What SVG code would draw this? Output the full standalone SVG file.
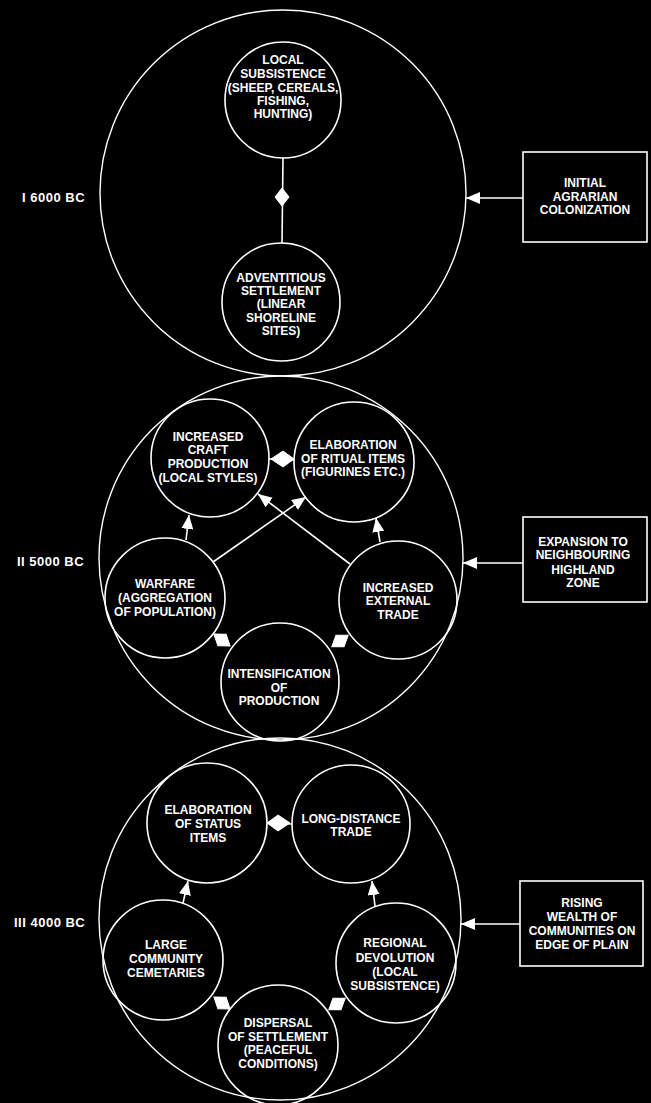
<svg xmlns="http://www.w3.org/2000/svg" width="651" height="1103" viewBox="0 0 651 1103">
<defs>
<style>
.bg{fill:#000}
.c{fill:none;stroke:#fff;stroke-width:1.6}
.big{fill:none;stroke:#fff;stroke-width:1.4}
.box{fill:none;stroke:#fff;stroke-width:1.6}
.t{fill:#fff;font-family:"Liberation Sans",Arial,sans-serif;font-size:12px;font-weight:bold;text-anchor:middle}
.lbl{fill:#fff;font-family:"Liberation Sans",Arial,sans-serif;font-size:13px;font-weight:bold;letter-spacing:0.5px}
.ln{stroke:#fff;stroke-width:1.6;fill:none}
.d{fill:#fff;stroke:#fff;stroke-width:1}
</style>
<marker id="ah" viewBox="0 0 14 12" refX="14" refY="6" markerWidth="14" markerHeight="12" orient="auto" markerUnits="userSpaceOnUse">
<path d="M0,0 L14,6 L0,12 z" fill="#fff"/>
</marker>
</defs>
<rect class="bg" x="0" y="0" width="651" height="1103"/>

<g id="phases">
<g id="phase1"><circle class="big" cx="283" cy="193" r="183"/><text class="lbl" x="22" y="202">I 6000 BC</text></g>
<g id="phase2"><circle class="big" cx="281" cy="558" r="182"/><text class="lbl" x="17" y="566">II 5000 BC</text></g>
<g id="phase3"><circle class="big" cx="280" cy="919" r="181"/><text class="lbl" x="14" y="927">III 4000 BC</text></g>
</g>

<g id="connectors">
<line class="ln" x1="283" y1="158" x2="282" y2="243"/>
<polygon class="d" points="282,188 289,197 282,206 275,197"/>
<line class="ln" x1="523" y1="198" x2="466" y2="198" marker-end="url(#ah)"/>
<line class="ln" x1="523" y1="563" x2="463" y2="563" marker-end="url(#ah)"/>
<line class="ln" x1="520" y1="924" x2="461" y2="924" marker-end="url(#ah)"/>

<line class="ln" x1="269" y1="459" x2="294" y2="460"/>
<polygon class="d" points="271,459 283,451 294,459 283,467"/>
<line class="ln" x1="186" y1="540" x2="189" y2="515" marker-end="url(#ah)"/>
<line class="ln" x1="380" y1="542" x2="376" y2="518" marker-end="url(#ah)"/>
<line class="ln" x1="213" y1="562" x2="306" y2="497" marker-end="url(#ah)"/>
<line class="ln" x1="350" y1="564" x2="258" y2="494" marker-end="url(#ah)"/>
<polygon class="d" points="-10,0 0,-7 10,0 0,7" transform="translate(222,640) rotate(36)"/>
<polygon class="d" points="-10,0 0,-7 10,0 0,7" transform="translate(340,641) rotate(-35)"/>

<line class="ln" x1="267" y1="823" x2="292" y2="824"/>
<polygon class="d" points="267,823 278,815 290,823 278,831"/>
<line class="ln" x1="183" y1="903" x2="188" y2="881" marker-end="url(#ah)"/>
<line class="ln" x1="375" y1="906" x2="372" y2="881" marker-end="url(#ah)"/>
<polygon class="d" points="-10,0 0,-7 10,0 0,7" transform="translate(222,1003) rotate(36)"/>
<polygon class="d" points="-10,0 0,-7 10,0 0,7" transform="translate(337,1004) rotate(-35)"/>
</g>

<g id="local-subsistence"><circle class="c" cx="283" cy="100" r="58"/>
<text class="t" x="283" y="64">LOCAL</text><text class="t" x="283" y="78">SUBSISTENCE</text><text class="t" x="283" y="92">(SHEEP, CEREALS,</text><text class="t" x="283" y="105">FISHING,</text><text class="t" x="283" y="118">HUNTING)</text></g>

<g id="adventitious-settlement"><circle class="c" cx="281" cy="302" r="59"/>
<text class="t" x="281" y="282">ADVENTITIOUS</text><text class="t" x="281" y="295">SETTLEMENT</text><text class="t" x="281" y="308">(LINEAR</text><text class="t" x="281" y="322">SHORELINE</text><text class="t" x="281" y="335">SITES)</text></g>

<g id="box-initial"><rect class="box" x="523" y="152" width="124" height="90"/>
<text class="t" x="585" y="187">INITIAL</text><text class="t" x="585" y="201">AGRARIAN</text><text class="t" x="585" y="214">COLONIZATION</text></g>

<g id="craft-production"><circle class="c" cx="210" cy="458" r="59"/>
<text class="t" x="208" y="441">INCREASED</text><text class="t" x="208" y="454">CRAFT</text><text class="t" x="208" y="468">PRODUCTION</text><text class="t" x="208" y="482">(LOCAL STYLES)</text></g>

<g id="ritual-items"><circle class="c" cx="354" cy="462" r="60"/>
<text class="t" x="353" y="449">ELABORATION</text><text class="t" x="353" y="463">OF RITUAL ITEMS</text><text class="t" x="353" y="476">(FIGURINES ETC.)</text></g>

<g id="warfare"><circle class="c" cx="165" cy="598" r="60"/>
<text class="t" x="165" y="588">WARFARE</text><text class="t" x="165" y="602">(AGGREGATION</text><text class="t" x="165" y="616">OF POPULATION)</text></g>

<g id="external-trade"><circle class="c" cx="398" cy="600" r="59"/>
<text class="t" x="398" y="592">INCREASED</text><text class="t" x="398" y="605">EXTERNAL</text><text class="t" x="398" y="619">TRADE</text></g>

<g id="intensification"><circle class="c" cx="280" cy="682" r="59"/>
<text class="t" x="279" y="678">INTENSIFICATION</text><text class="t" x="279" y="692">OF</text><text class="t" x="279" y="705">PRODUCTION</text></g>

<g id="box-expansion"><rect class="box" x="523" y="517" width="124" height="85"/>
<text class="t" x="583" y="546">EXPANSION TO</text><text class="t" x="583" y="559">NEIGHBOURING</text><text class="t" x="583" y="574">HIGHLAND</text><text class="t" x="583" y="587">ZONE</text></g>

<g id="status-items"><circle class="c" cx="207" cy="823" r="60"/>
<text class="t" x="208" y="814">ELABORATION</text><text class="t" x="208" y="828">OF STATUS</text><text class="t" x="208" y="842">ITEMS</text></g>

<g id="long-distance-trade"><circle class="c" cx="351" cy="824" r="59"/>
<text class="t" x="351" y="823">LONG-DISTANCE</text><text class="t" x="351" y="836">TRADE</text></g>

<g id="cemeteries"><circle class="c" cx="163" cy="960" r="60"/>
<text class="t" x="166" y="949">LARGE</text><text class="t" x="166" y="963">COMMUNITY</text><text class="t" x="166" y="977">CEMETARIES</text></g>

<g id="regional-devolution"><circle class="c" cx="396" cy="963" r="60"/>
<text class="t" x="395" y="947">REGIONAL</text><text class="t" x="395" y="962">DEVOLUTION</text><text class="t" x="395" y="976">(LOCAL</text><text class="t" x="395" y="990">SUBSISTENCE)</text></g>

<g id="dispersal"><circle class="c" cx="278" cy="1045" r="60"/>
<text class="t" x="278" y="1027">DISPERSAL</text><text class="t" x="278" y="1041">OF SETTLEMENT</text><text class="t" x="278" y="1054">(PEACEFUL</text><text class="t" x="278" y="1068">CONDITIONS)</text></g>

<g id="box-rising"><rect class="box" x="520" y="881" width="123" height="85"/>
<text class="t" x="582" y="907">RISING</text><text class="t" x="582" y="921">WEALTH OF</text><text class="t" x="582" y="935">COMMUNITIES ON</text><text class="t" x="582" y="949">EDGE OF PLAIN</text></g>
</svg>
